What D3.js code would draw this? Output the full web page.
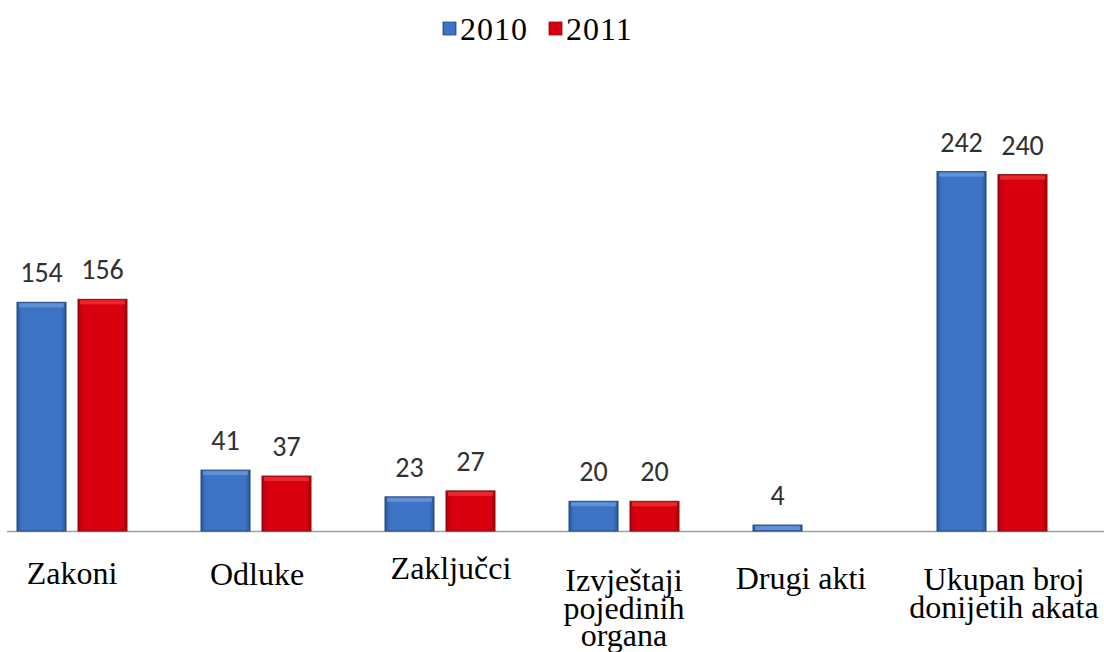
<!DOCTYPE html>
<html>
<head>
<meta charset="utf-8">
<script src="https://cdn.jsdelivr.net/npm/d3@7"></script>
<style>
  body { margin: 0; background: #fff; }
</style>
</head>
<body>
<div id="chart"></div>
<script>
let categories = [["Zakoni"], ["Odluke"], ["Zaključci"], ["Izvještaji", "pojedinih", "organa"], ["Drugi akti"], ["Ukupan broj", "donijetih akata"]];
let series = ["2010", "2011"];
let values2010 = [154, 41, 23, 20, 4, 242];
let values2011 = [156, 37, 27, 20, null, 240];

let width = 1104, height = 652;
let baseline = 531;

let svg = d3.select("#chart")
    .append("svg")
    .attr("width", width)
    .attr("height", height);

let defs = svg.append("defs");
function grad(id, mid, edge) {
    let g = defs.append("linearGradient").attr("id", id)
        .attr("x1", 0).attr("y1", 0).attr("x2", 1).attr("y2", 0);
    g.append("stop").attr("offset", "0%").attr("stop-color", edge);
    g.append("stop").attr("offset", "10%").attr("stop-color", mid);
    g.append("stop").attr("offset", "90%").attr("stop-color", mid);
    g.append("stop").attr("offset", "100%").attr("stop-color", edge);
}
grad("gBlue", "#3e74c6", "#2c5699");
grad("gRed", "#d8000f", "#a6000b");

let colors = {"2010": {fill: "url(#gBlue)", stroke: "#23497f", top: "#6e9cdf"},
              "2011": {fill: "url(#gRed)", stroke: "#8e0a10", top: "#ee3b3b"}};

let x = d3.scaleBand()
    .domain(d3.range(categories.length))
    .range([-20, 1084]);

let y = d3.scaleLinear()
    .domain([0, 250])
    .range([baseline, baseline - 250 * 1.485]);

// axis line
svg.append("line")
    .attr("x1", 7).attr("x2", width)
    .attr("y1", baseline + 0.5).attr("y2", baseline + 0.5)
    .attr("stroke", "#a0a0a0")
    .attr("stroke-width", 1.5);

let barW = 49;
let data = [];
for (let i = 0; i < categories.length; i++) {
    data.push({i: i, s: "2010", v: values2010[i], dx: -55});
    if (values2011[i] !== null) data.push({i: i, s: "2011", v: values2011[i], dx: 6});
}

let bars = svg.append("g").selectAll("g.bar")
    .data(data)
    .enter()
    .append("g");

bars.append("rect")
    .attr("x", d => x(d.i) + x.bandwidth() / 2 + d.dx)
    .attr("y", d => y(d.v))
    .attr("width", barW)
    .attr("height", d => baseline - y(d.v))
    .attr("fill", d => colors[d.s].fill)
    .attr("stroke", d => colors[d.s].stroke)
    .attr("stroke-width", 1);

// bevel highlight on top
bars.append("rect")
    .attr("x", d => x(d.i) + x.bandwidth() / 2 + d.dx + 2)
    .attr("y", d => y(d.v) + 1)
    .attr("width", barW - 4)
    .attr("height", d => Math.min(4, baseline - y(d.v) - 2))
    .attr("fill", d => colors[d.s].top)
    .attr("opacity", 0.7);

// value labels
bars.append("text")
    .attr("x", d => x(d.i) + x.bandwidth() / 2 + d.dx + barW / 2)
    .attr("y", d => y(d.v) - 20)
    .attr("text-anchor", "middle")
    .attr("font-family", "Carlito, 'Open Sans', sans-serif")
    .attr("font-size", "28px")
    .attr("fill", "#303030")
    .text(d => d.v);

// category labels
let labelY = [584, 585, 579, 591, 589, 590];
let labelX = [72, 257, 451, 624, 801, 1004];
categories.forEach(function (lines, i) {
    let t = svg.append("text")
        .attr("y", labelY[i])
        .attr("text-anchor", "middle")
        .attr("font-family", "'Liberation Serif', 'DejaVu Serif', serif")
        .attr("font-size", "32px")
        .attr("fill", "#000");
    lines.forEach(function (line, j) {
        t.append("tspan")
            .attr("x", labelX[i])
            .attr("dy", j === 0 ? 0 : 27.5)
            .text(line);
    });
});

// legend
let legendX = [443, 549];
series.forEach(function (s, k) {
    svg.append("rect")
        .attr("x", legendX[k])
        .attr("y", 22)
        .attr("width", 13)
        .attr("height", 13)
        .attr("fill", colors[s].fill)
        .attr("stroke", colors[s].stroke)
        .attr("stroke-width", 0.8);
    svg.append("text")
        .attr("x", legendX[k] + 17)
        .attr("y", 40)
        .attr("font-family", "'Liberation Serif', 'DejaVu Serif', serif")
        .attr("font-size", "32px")
        .attr("letter-spacing", "1px")
        .attr("fill", "#000")
        .text(s);
});
</script>
</body>
</html>
